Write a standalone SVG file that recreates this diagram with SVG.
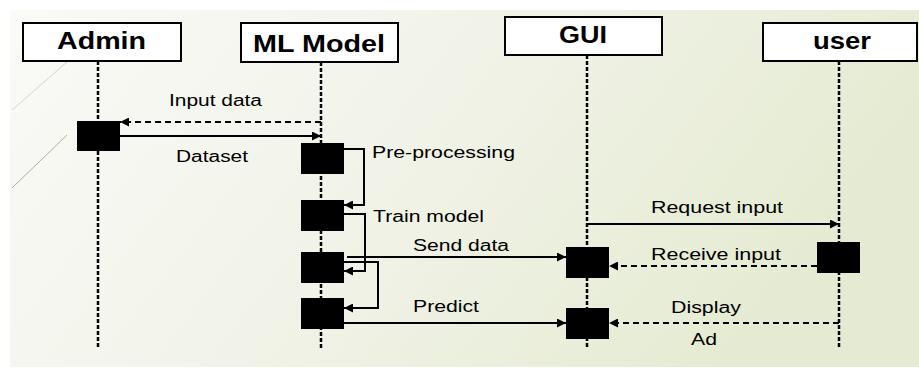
<svg xmlns="http://www.w3.org/2000/svg" width="919" height="369" viewBox="0 0 919 369">
<defs>
<linearGradient id="bg" x1="0" y1="0" x2="1" y2="0.3">
<stop offset="0" stop-color="#fafaf7"/>
<stop offset="0.5" stop-color="#f1f3e8"/>
<stop offset="1" stop-color="#e5ebd2"/>
</linearGradient>
<marker id="ah" viewBox="0 0 10 10" refX="10" refY="5" markerWidth="11" markerHeight="9" markerUnits="userSpaceOnUse" orient="auto">
<path d="M0,0 L10,5 L0,10 Z" fill="#000"/>
</marker>
</defs>
<style>
.head{fill:#fff;stroke:#000;stroke-width:2}
.title{font-family:"Liberation Sans",Arial,sans-serif;font-weight:bold;font-size:23px;fill:#000}
.lbl{font-family:"Liberation Sans",Arial,sans-serif;font-size:16px;fill:#000}
.life{stroke:#000;stroke-width:2.5;stroke-dasharray:4 2;fill:none}
.bar{fill:#000}
.msg{stroke:#000;stroke-width:2;fill:none;marker-end:url(#ah)}
.dash{stroke-dasharray:6 4}
.deco{stroke:#9a9a9a;stroke-width:1;fill:none}
</style>
<rect x="0" y="0" width="919" height="369" fill="#fff"/>
<rect x="10" y="10" width="909" height="357" fill="url(#bg)"/>
<line class="deco" x1="12" y1="110" x2="67" y2="62" stroke-opacity="0.4"/>
<line class="deco" x1="12" y1="188" x2="67" y2="135" stroke-opacity="0.8"/>

<g id="admin">
<line class="life" x1="98" y1="61" x2="98" y2="348"/>
<rect class="head" x="23" y="23" width="158" height="38"/>
<text class="title" x="57" y="49" textLength="89" lengthAdjust="spacingAndGlyphs">Admin</text>
<rect class="bar" x="77" y="121" width="43" height="30"/>
</g>

<g id="ml-model">
<line class="life" x1="321" y1="62" x2="321" y2="348"/>
<rect class="head" x="241" y="23" width="157" height="39"/>
<text class="title" x="253" y="52" textLength="132" lengthAdjust="spacingAndGlyphs">ML Model</text>
<rect class="bar" x="301" y="143" width="43" height="31"/>
<rect class="bar" x="301" y="200" width="43" height="31"/>
<rect class="bar" x="301" y="252" width="43" height="31"/>
<rect class="bar" x="301" y="298" width="43" height="31"/>
</g>

<g id="gui">
<line class="life" x1="587" y1="55" x2="587" y2="348"/>
<rect class="head" x="505" y="17" width="157" height="38"/>
<text class="title" x="559" y="43" textLength="48" lengthAdjust="spacingAndGlyphs">GUI</text>
<rect class="bar" x="566" y="247" width="43" height="31"/>
<rect class="bar" x="566" y="308" width="43" height="31"/>
</g>

<g id="user">
<line class="life" x1="839" y1="61" x2="839" y2="348"/>
<rect class="head" x="763" y="23" width="154" height="38"/>
<text class="title" x="813" y="49" textLength="58" lengthAdjust="spacingAndGlyphs">user</text>
<rect class="bar" x="817" y="242" width="43" height="31"/>
</g>

<g id="connectors">
<line class="msg dash" x1="321" y1="122" x2="120" y2="122"/>
<text class="lbl" x="169" y="106" textLength="93" lengthAdjust="spacingAndGlyphs">Input data</text>
<line class="msg" x1="120" y1="136" x2="321" y2="136"/>
<text class="lbl" x="176" y="162" textLength="72" lengthAdjust="spacingAndGlyphs">Dataset</text>
<polyline class="msg" points="344,149 364,149 364,205 344,205"/>
<text class="lbl" x="372" y="158" textLength="143" lengthAdjust="spacingAndGlyphs">Pre-processing</text>
<polyline class="msg" points="344,214 365,214 365,271 344,271"/>
<text class="lbl" x="373" y="222" textLength="111" lengthAdjust="spacingAndGlyphs">Train model</text>
<polyline class="msg" points="344,262 378,262 378,308 344,308"/>
<line class="msg" x1="347" y1="257" x2="566" y2="257"/>
<text class="lbl" x="413" y="251" textLength="96" lengthAdjust="spacingAndGlyphs">Send data</text>
<line class="msg" x1="344" y1="323" x2="566" y2="323"/>
<text class="lbl" x="413" y="312" textLength="66" lengthAdjust="spacingAndGlyphs">Predict</text>
<line class="msg" x1="587" y1="224" x2="839" y2="224"/>
<text class="lbl" x="651" y="213" textLength="132" lengthAdjust="spacingAndGlyphs">Request input</text>
<line class="msg dash" x1="817" y1="266" x2="609" y2="266"/>
<text class="lbl" x="651" y="260" textLength="130" lengthAdjust="spacingAndGlyphs">Receive input</text>
<line class="msg dash" x1="839" y1="323" x2="609" y2="323"/>
<text class="lbl" x="671" y="313" textLength="70" lengthAdjust="spacingAndGlyphs">Display</text>
<text class="lbl" x="691" y="345" textLength="26" lengthAdjust="spacingAndGlyphs">Ad</text>
</g>
</svg>
